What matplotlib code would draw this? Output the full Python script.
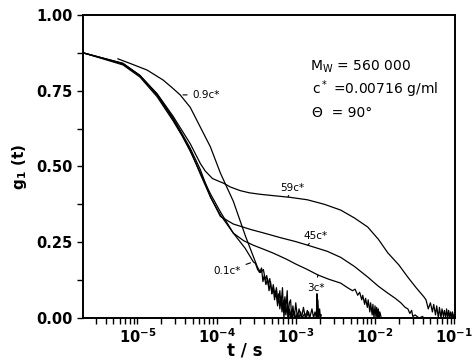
import numpy as np
import matplotlib
matplotlib.use("Agg")
import matplotlib.pyplot as plt

# g1(t) curves (t in seconds)
t_01 = [2.06e-6, 6.6e-6, 1.08e-5, 1.78e-5, 2.84e-5, 3.7e-5, 4.66e-5, 6.24e-5, 8.36e-5, 1.12e-4,
        1.63e-4, 2.3e-4, 2.92e-4, 3.1e-4, 3.3e-4, 3.5e-4, 3.7e-4, 3.85e-4, 4.0e-4, 4.2e-4,
        4.4e-4, 4.6e-4, 4.8e-4, 5.0e-4, 5.2e-4, 5.4e-4, 5.6e-4, 5.9e-4, 6.1e-4, 6.3e-4,
        6.5e-4, 6.7e-4, 6.9e-4, 7.1e-4, 7.3e-4, 7.5e-4, 7.8e-4, 8.0e-4, 8.3e-4, 8.5e-4,
        8.8e-4, 9.0e-4, 9.5e-4, 1.0e-3, 1.05e-3, 1.1e-3, 1.15e-3, 1.2e-3, 1.3e-3, 1.35e-3,
        1.45e-3, 1.5e-3]
g_01 = [0.875, 0.835, 0.795, 0.73, 0.65, 0.6, 0.55, 0.48, 0.41, 0.35,
        0.28, 0.23, 0.185, 0.18, 0.16, 0.15, 0.165, 0.12, 0.14, 0.11,
        0.13, 0.09, 0.12, 0.08, 0.10, 0.06, 0.09, 0.04, 0.08, 0.03,
        0.07, 0.02, 0.06, 0.0, 0.05, 0.01, 0.04, 0.0, 0.03, 0.0,
        0.025, 0.0, 0.02, 0.0, 0.015, 0.0, 0.02, 0.0, 0.015, 0.0,
        0.02, 0.0]

t_09 = [5.7e-6, 8.1e-6, 1.33e-5, 2.12e-5, 2.75e-5, 3.48e-5, 4.66e-5, 6.24e-5, 8.36e-5, 1.12e-4,
        1.63e-4, 2.32e-4, 3.28e-4, 3.6e-4, 3.9e-4, 4.14e-4, 4.3e-4, 4.5e-4, 4.7e-4, 5.0e-4,
        5.2e-4, 5.5e-4, 5.7e-4, 6.0e-4, 6.3e-4, 6.5e-4, 6.8e-4, 7.0e-4, 7.3e-4, 7.5e-4,
        7.8e-4, 8.0e-4, 8.3e-4, 8.6e-4, 8.9e-4, 9.2e-4, 9.6e-4, 1.0e-3, 1.05e-3, 1.1e-3,
        1.18e-3, 1.25e-3, 1.32e-3, 1.4e-3, 1.5e-3, 1.6e-3, 1.68e-3, 1.75e-3, 1.82e-3, 1.85e-3,
        1.88e-3, 1.9e-3, 1.95e-3, 2.0e-3, 2.05e-3, 2.1e-3]
g_09 = [0.855, 0.84, 0.818, 0.785, 0.76, 0.736, 0.695, 0.63, 0.565, 0.478,
        0.385, 0.27, 0.168, 0.15, 0.16, 0.125, 0.14, 0.11, 0.13, 0.08,
        0.11, 0.07, 0.10, 0.05, 0.09, 0.04, 0.10, 0.02, 0.07, 0.03,
        0.09, 0.0, 0.05, 0.06, 0.0, 0.04, 0.0, 0.05, 0.0, 0.03,
        0.0, 0.035, 0.0, 0.025, 0.0, 0.03, 0.0, 0.02, 0.0, 0.08,
        0.0, 0.06, 0.0, 0.03, 0.0, 0.01]

t_3 = [2.06e-6, 6.6e-6, 1.08e-5, 1.78e-5, 2.84e-5, 4.66e-5, 6.24e-5, 8.36e-5, 1.12e-4, 1.63e-4,
       2.2e-4, 2.92e-4, 4.0e-4, 5.2e-4, 7.5e-4, 1.0e-3, 1.4e-3, 1.9e-3, 2.6e-3, 3.69e-3,
       4.5e-3, 5.2e-3, 5.6e-3, 6.05e-3, 6.4e-3, 6.8e-3, 7.0e-3, 7.4e-3, 7.6e-3, 8.0e-3,
       8.2e-3, 8.6e-3, 8.8e-3, 9.2e-3, 9.4e-3, 9.7e-3, 1.0e-2, 1.03e-2, 1.05e-2, 1.08e-2,
       1.1e-2, 1.13e-2, 1.15e-2, 1.2e-2]
g_3 = [0.875, 0.838, 0.80, 0.735, 0.655, 0.555, 0.475, 0.40, 0.34, 0.28,
       0.255, 0.24, 0.226, 0.214, 0.195, 0.178, 0.16, 0.142, 0.128, 0.115,
       0.10, 0.09, 0.095, 0.075, 0.085, 0.06, 0.075, 0.045, 0.065, 0.035,
       0.06, 0.02, 0.05, 0.01, 0.045, 0.0, 0.04, 0.0, 0.035, 0.0,
       0.03, 0.0, 0.02, 0.0]

t_45 = [2.06e-6, 6.6e-6, 1.08e-5, 1.78e-5, 2.84e-5, 4.66e-5, 6.24e-5, 8.36e-5, 1.12e-4, 1.63e-4,
        2.7e-4, 4.0e-4, 6.4e-4, 1.0e-3, 1.42e-3, 2.5e-3, 3.69e-3, 5.5e-3, 8.1e-3, 1.1e-2,
        1.45e-2, 1.8e-2, 2.12e-2, 2.4e-2, 2.6e-2, 2.75e-2, 2.9e-2, 3.0e-2, 3.2e-2, 3.6e-2,
        4.0e-2]
g_45 = [0.875, 0.84, 0.80, 0.738, 0.66, 0.56, 0.49, 0.40, 0.335, 0.31,
        0.292, 0.28, 0.265, 0.252, 0.24, 0.22, 0.20, 0.17, 0.135, 0.105,
        0.082, 0.065, 0.05, 0.035, 0.03, 0.015, 0.025, 0.005, 0.01, 0.0,
        0.005]

t_59 = [2.06e-6, 6.6e-6, 1.08e-5, 1.78e-5, 2.84e-5, 4.66e-5, 6.24e-5, 7.2e-5, 8.9e-5, 1.05e-4,
        1.22e-4, 1.5e-4, 2.0e-4, 2.6e-4, 3.58e-4, 5.5e-4, 8.5e-4, 1.4e-3, 2.3e-3, 3.69e-3,
        5.5e-3, 8.1e-3, 1.1e-2, 1.45e-2, 2.0e-2, 2.59e-2, 3.3e-2, 4.13e-2, 4.4e-2, 4.7e-2,
        5.0e-2, 5.3e-2, 5.5e-2, 5.8e-2, 6.0e-2, 6.3e-2, 6.5e-2, 6.8e-2, 7.0e-2, 7.3e-2,
        7.5e-2, 7.8e-2, 8.0e-2, 8.3e-2, 8.5e-2, 8.8e-2, 9.0e-2, 9.3e-2, 9.5e-2, 9.8e-2,
        1.0e-1]
g_59 = [0.875, 0.84, 0.80, 0.74, 0.665, 0.575, 0.51, 0.485, 0.46, 0.452,
        0.445, 0.432, 0.42, 0.413, 0.408, 0.403, 0.398, 0.39, 0.375, 0.356,
        0.33, 0.30, 0.26, 0.215, 0.175, 0.135, 0.10, 0.07, 0.06, 0.03,
        0.05, 0.02, 0.045, 0.01, 0.04, 0.0, 0.035, 0.0, 0.03, 0.005,
        0.025, 0.0, 0.03, 0.0, 0.025, 0.0, 0.02, 0.0, 0.02, 0.0,
        0.01]

y_ticks = [0.0, 0.25, 0.5, 0.75, 1.0]
y_ticklabels = ["0.00", "0.25", "0.50", "0.75", "1.00"]
x_ticks = [1e-5, 1e-4, 1e-3, 1e-2, 1e-1]
x_ticklabels = [r"$\mathbf{10^{-5}}$", r"$\mathbf{10^{-4}}$", r"$\mathbf{10^{-3}}$",
                r"$\mathbf{10^{-2}}$", r"$\mathbf{10^{-1}}$"]

fig = plt.figure(figsize=(4.74, 3.63), dpi=100)
ax = fig.add_axes([0.1745, 0.124, 0.786, 0.835])

for t, g in [(t_01, g_01), (t_09, g_09), (t_3, g_3), (t_45, g_45), (t_59, g_59)]:
    ax.plot(t, g, color="black", lw=0.9)

ax.set_xscale("log")
ax.set_xlim(2.05e-6, 1.03e-1)
ax.set_ylim(0, 1.0)
ax.set_yticks(y_ticks)
ax.set_yticklabels(y_ticklabels, fontsize=10.5, fontweight="bold")
ax.set_yticks([0.125, 0.375, 0.625, 0.875], minor=True)
ax.set_xticks(x_ticks)
ax.set_xticklabels(x_ticklabels, fontsize=10.5)
ax.tick_params(which="both", direction="out", length=4, width=1, color="black")
ax.tick_params(axis="x", which="major", pad=3)
for s in ax.spines.values():
    s.set_linewidth(1.4)

fig.text(0.517, 0.01, "t / s", ha="center", va="bottom", fontsize=12, fontweight="bold")
ax.set_ylabel("g$_\\mathbf{1}$ (t)", fontsize=11, fontweight="bold", labelpad=5)

# curve labels
lab = dict(fontsize=7.5, color="black")
arr = dict(arrowstyle="-", color="black", lw=0.8)
ax.annotate("0.9c*", xy=(3.48e-5, 0.736), xytext=(5.0e-5, 0.736), va="center", ha="left",
            arrowprops=arr, **lab)
ax.annotate("0.1c*", xy=(2.9e-4, 0.185), xytext=(9.1e-5, 0.155), va="center", ha="left",
            arrowprops=arr, **lab)
ax.annotate("59c*", xy=(8.0e-4, 0.40), xytext=(6.4e-4, 0.43), va="center", ha="left",
            arrowprops=arr, **lab)
ax.annotate("45c*", xy=(1.42e-3, 0.24), xytext=(1.25e-3, 0.272), va="center", ha="left",
            arrowprops=arr, **lab)
ax.annotate("3c*", xy=(1.9e-3, 0.142), xytext=(1.4e-3, 0.10), va="center", ha="left",
            arrowprops=arr, **lab)

ax.text(0.61, 0.815, "M$_\\mathrm{W}$ = 560 000", transform=ax.transAxes, fontsize=10)
ax.text(0.615, 0.74, "c$^*$ =0.00716 g/ml", transform=ax.transAxes, fontsize=10)
ax.text(0.615, 0.662, "\u0398  = 90\u00b0", transform=ax.transAxes, fontsize=10)

fig.savefig("out.png", dpi=100)
